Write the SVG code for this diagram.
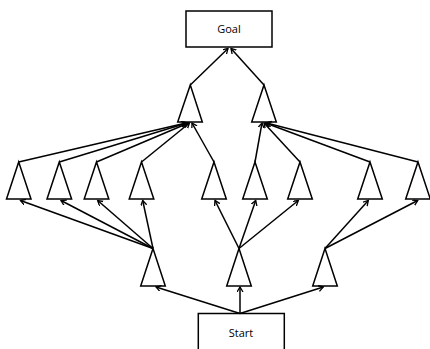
<svg xmlns="http://www.w3.org/2000/svg" width="430" height="349" viewBox="0 0 430 349">
<style>
.box{fill:#fff;stroke:#000;stroke-width:1.5}
.tri{fill:#fff;stroke:#000;stroke-width:1.5;stroke-linejoin:miter}
.lbl{font-family:"Open Sans","Liberation Sans",sans-serif;font-size:11px;fill:#000;text-anchor:middle}
.edge{fill:none;stroke:#000;stroke-width:1.5;marker-end:url(#arr)}
</style>
<defs>
<marker id="arr" markerUnits="userSpaceOnUse" markerWidth="8" markerHeight="8" refX="5" refY="3" orient="auto" viewBox="0 0 8 8">
<path d="M0,0 L5,3 L0,6" fill="none" stroke="#000" stroke-width="1.3"/>
</marker>
</defs>
<rect width="430" height="349" fill="#fff"/>
<g id="goal"><rect class="box" x="186" y="11" width="86" height="36"/><text class="lbl" x="229" y="33">Goal</text></g>
<g id="start"><rect class="box" x="198.3" y="313.5" width="86" height="40"/><text class="lbl" x="241" y="337">Start</text></g>
<g id="l1a"><polygon class="tri" points="190.3,85 202.3,122 177.7,122"/></g>
<g id="l1b"><polygon class="tri" points="264,85 276.3,122 251.7,122"/></g>
<g id="t1"><polygon class="tri" points="18.7,162 31,199 6.5,199"/></g>
<g id="t2"><polygon class="tri" points="59.3,162 71.6,199 47,199"/></g>
<g id="t3"><polygon class="tri" points="96.5,162 108.8,199 84.2,199"/></g>
<g id="t4"><polygon class="tri" points="141.5,162 153.8,199 129.2,199"/></g>
<g id="t5"><polygon class="tri" points="214,162 226.3,199 201.7,199"/></g>
<g id="t6"><polygon class="tri" points="255,162 267.3,199 242.7,199"/></g>
<g id="t7"><polygon class="tri" points="300,162 312.3,199 287.7,199"/></g>
<g id="t8"><polygon class="tri" points="370,162 382.3,199 357.7,199"/></g>
<g id="t9"><polygon class="tri" points="418,162 430.3,199 405.7,199"/></g>
<g id="m1"><polygon class="tri" points="153,248.5 165.3,286 140.7,286"/></g>
<g id="m2"><polygon class="tri" points="239,248.5 251.3,286 226.7,286"/></g>
<g id="m3"><polygon class="tri" points="325,248.5 337.3,286 312.7,286"/></g>
<g id="connectors">
<line class="edge" x1="190.3" y1="85" x2="228" y2="48.5"/>
<line class="edge" x1="264" y1="85" x2="231" y2="48.5"/>
<line class="edge" x1="18.7" y1="162" x2="186" y2="123"/>
<line class="edge" x1="59.3" y1="162" x2="187" y2="123"/>
<line class="edge" x1="96.5" y1="162" x2="188.5" y2="123"/>
<line class="edge" x1="141.5" y1="162" x2="189.5" y2="123"/>
<line class="edge" x1="214" y1="162" x2="192" y2="123"/>
<line class="edge" x1="255" y1="162" x2="262" y2="123"/>
<line class="edge" x1="300" y1="162" x2="264" y2="123"/>
<line class="edge" x1="370" y1="162" x2="265.5" y2="123"/>
<line class="edge" x1="418" y1="162" x2="266.5" y2="123"/>
<line class="edge" x1="153" y1="248.5" x2="20.5" y2="200.5"/>
<line class="edge" x1="153" y1="248.5" x2="61" y2="200.5"/>
<line class="edge" x1="153" y1="248.5" x2="97.7" y2="200.5"/>
<line class="edge" x1="153" y1="248.5" x2="142.7" y2="200.5"/>
<line class="edge" x1="239" y1="248.5" x2="215" y2="200.5"/>
<line class="edge" x1="239" y1="248.5" x2="255.7" y2="200.5"/>
<line class="edge" x1="239" y1="248.5" x2="298.3" y2="200.5"/>
<line class="edge" x1="325" y1="248.5" x2="368.3" y2="200.5"/>
<line class="edge" x1="325" y1="248.5" x2="417.7" y2="200.5"/>
<line class="edge" x1="240" y1="313.5" x2="156" y2="287"/>
<line class="edge" x1="240" y1="313.5" x2="240" y2="287"/>
<line class="edge" x1="240" y1="313.5" x2="323.3" y2="287"/>
</g>
</svg>
